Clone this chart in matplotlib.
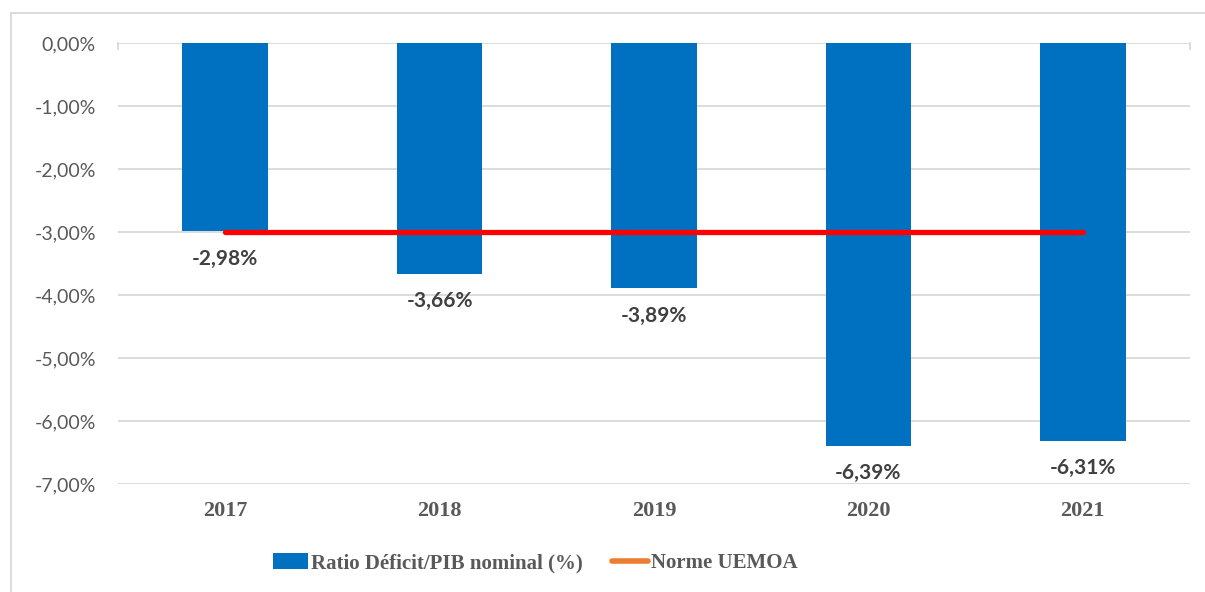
import matplotlib
matplotlib.use("Agg")
import matplotlib.pyplot as plt
from matplotlib.patches import Patch
from matplotlib.lines import Line2D

years = ["2017", "2018", "2019", "2020", "2021"]
ratio_deficit = [-2.98, -3.66, -3.89, -6.39, -6.31]
norme_uemoa = [-3.0, -3.0, -3.0, -3.0, -3.0]
y_ticks = [0, -1, -2, -3, -4, -5, -6, -7]
bar_label = "Ratio Déficit/PIB nominal (%)"
line_label = "Norme UEMOA"

def fr_pct(v):
    return f"{v:.2f}%".replace(".", ",")

fig = plt.figure(figsize=(12.05, 5.92), dpi=100)
ax = fig.add_axes([118/1205, 1-484/592, (1190-118)/1205, (484-43)/592])

x = list(range(len(years)))
ax.bar(x, ratio_deficit, width=0.4, color="#0070C0", zorder=2)
ax.plot(x, norme_uemoa, color="#FF0000", lw=3.8, solid_capstyle="round", zorder=3)

for xi, v in zip(x, ratio_deficit):
    ax.annotate(fr_pct(v), (xi, v), xytext=(0, -20), textcoords="offset points",
                ha="center", va="center", fontsize=15, fontweight="bold",
                color="#404040", family="Lato")

ax.set_xlim(-0.5, len(years) - 0.5)
ax.set_ylim(min(y_ticks), max(y_ticks))
ax.set_yticks(y_ticks)
ax.set_yticklabels([fr_pct(t) for t in y_ticks], fontsize=14, color="#595959", family="Lato")
ax.set_xticks(x)
ax.set_xticklabels(years, fontsize=16, fontweight="bold", color="#595959", family="Liberation Serif")
ax.tick_params(axis="y", length=0, pad=16)
ax.tick_params(axis="x", length=0, pad=12)
ax.grid(axis="y", color="#D9D9D9", lw=1.3, zorder=0)
ax.set_axisbelow(True)
for s in ax.spines.values():
    s.set_visible(False)

# small end tick marks on the top (0%) axis line
for xe in (-0.5, len(years) - 0.5):
    ax.plot([xe, xe], [0, -0.1], color="#D9D9D9", lw=1.3, clip_on=False, zorder=1)

handles = [Patch(facecolor="#0070C0", edgecolor="none"),
           Line2D([0], [0], color="#ED7D31", lw=4, solid_capstyle="round")]
fig.legend(handles, [bar_label, line_label], loc="center",
           bbox_to_anchor=(535/1205, 1-563/592), ncol=2, frameon=False,
           prop={"family": "Liberation Serif", "weight": "bold", "size": 15},
           labelcolor="#595959", handlelength=1.7, handletextpad=0.15,
           columnspacing=1.4, handleheight=0.8)

# figure border (top and left only visible)
fig.add_artist(Line2D([11/1205, 1], [1-13/592, 1-13/592], transform=fig.transFigure,
                      color="#D9D9D9", lw=1.3))
fig.add_artist(Line2D([11/1205, 11/1205], [0, 1-13/592], transform=fig.transFigure,
                      color="#D9D9D9", lw=1.3))

fig.savefig("out.png", dpi=100, facecolor="white")
